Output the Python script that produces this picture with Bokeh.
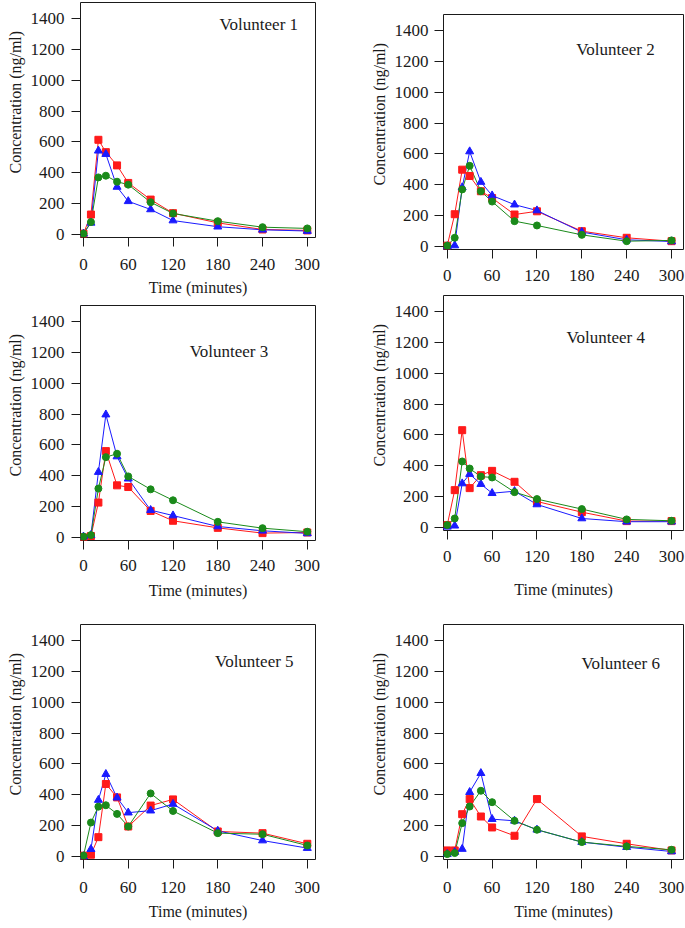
from bokeh.plotting import figure
from bokeh.layouts import row, column
from bokeh.models import Range1d, FixedTicker, Label, Title
from bokeh.embed import file_html
from bokeh.resources import INLINE

# ---------------- data ----------------
time_min = [0, 10, 20, 30, 45, 60, 90, 120, 180, 240, 300]
x_ticks = [0, 60, 120, 180, 240, 300]
y_ticks = [0, 200, 400, 600, 800, 1000, 1200, 1400]
volunteer_names = ["Volunteer 1", "Volunteer 2", "Volunteer 3",
                   "Volunteer 4", "Volunteer 5", "Volunteer 6"]

# red squares
v1_red = [5, 129, 614, 534, 448, 334, 226, 138, 75, 32, 26]
v2_red = [5, 209, 498, 457, 358, 314, 207, 228, 99, 56, 34]
v3_red = [0, 9, 226, 560, 338, 327, 172, 108, 62, 28, 32]
v4_red = [15, 242, 631, 255, 339, 367, 296, 168, 99, 41, 41]
v5_red = [5, 11, 125, 470, 383, 194, 330, 370, 162, 151, 82]
v6_red = [39, 39, 274, 372, 259, 188, 134, 372, 130, 82, 39]

# blue triangles
v1_blue = [5, 75, 543, 521, 308, 215, 162, 90, 50, 30, 22]
v2_blue = [0, 6, 383, 616, 418, 330, 271, 233, 93, 43, 32]
v3_blue = [5, 15, 424, 797, 525, 381, 177, 142, 71, 43, 26]
v4_blue = [4, 11, 285, 346, 281, 222, 235, 149, 58, 37, 37]
v5_blue = [0, 47, 366, 534, 381, 284, 297, 340, 166, 103, 54]
v6_blue = [15, 28, 48, 417, 540, 242, 231, 173, 93, 60, 32]

# green circles
v1_green = [5, 80, 370, 381, 342, 323, 209, 136, 86, 47, 39]
v2_green = [5, 56, 370, 523, 358, 291, 164, 136, 75, 34, 39]
v3_green = [5, 15, 317, 521, 543, 396, 312, 241, 101, 60, 37]
v4_green = [15, 58, 428, 382, 330, 324, 229, 184, 119, 52, 43]
v5_green = [5, 220, 323, 332, 276, 194, 409, 295, 151, 144, 71]
v6_green = [15, 22, 216, 324, 426, 352, 231, 173, 93, 65, 43]

# ---------------- style ----------------
FONT = "Liberation Serif"
INK = "#1a1a1a"
RED = "#ff1a1a"
BLUE = "#1a1aff"
GREEN = "#1a8a1a"

# label anchor positions (data units) for "Volunteer n"
label_xy = [(235, 1361), (225, 1277), (195, 1207), (212, 1233), (229, 1264), (232, 1253)]


def make_panel(i, red, blue, green, width, height, bl, br, bt, bb,
               xr, ylab_standoff, ytitle_standoff, xlab_standoff,
               xtitle_standoff=None):
    p = figure(width=width, height=height, output_backend="svg",
               toolbar_location=None,
               x_range=Range1d(*xr), y_range=Range1d(-20, 1505),
               min_border_left=bl, min_border_right=br,
               min_border_top=bt, min_border_bottom=bb)
    p.xgrid.visible = False
    p.ygrid.visible = False
    p.outline_line_color = INK
    p.outline_line_alpha = 1
    p.outline_line_width = 1
    p.background_fill_color = "white"
    p.border_fill_color = "white"

    for ax in (p.xaxis[0], p.yaxis[0]):
        ax.axis_line_color = None
        ax.major_tick_out = 9
        ax.major_tick_in = 0
        ax.minor_tick_out = 0
        ax.minor_tick_in = 0
        ax.major_tick_line_color = INK
        ax.major_label_text_font = FONT
        ax.major_label_text_font_size = "17px"
        ax.major_label_text_color = INK
    p.xaxis[0].ticker = FixedTicker(ticks=x_ticks)
    p.yaxis[0].ticker = FixedTicker(ticks=y_ticks)
    p.xaxis[0].major_label_standoff = xlab_standoff
    p.yaxis[0].major_label_standoff = ylab_standoff

    if xtitle_standoff is not None:
        p.xaxis[0].axis_label = "Time (minutes)"
        p.xaxis[0].axis_label_text_font = FONT
        p.xaxis[0].axis_label_text_font_size = "16px"
        p.xaxis[0].axis_label_text_font_style = "normal"
        p.xaxis[0].axis_label_text_color = INK
        p.xaxis[0].axis_label_standoff = xtitle_standoff

    p.add_layout(Title(text="Concentration (ng/ml)", align="left", offset=64,
                       text_font=FONT, text_font_size="16px",
                       text_font_style="normal", text_color=INK,
                       standoff=ytitle_standoff), "left")

    p.line(time_min, red, line_color=RED, line_width=1)
    p.line(time_min, blue, line_color=BLUE, line_width=1)
    p.line(time_min, green, line_color=GREEN, line_width=1)
    p.scatter(time_min, red, marker="square", size=7, fill_color=RED, line_color=RED)
    p.scatter(time_min, blue, marker="triangle", size=8, fill_color=BLUE, line_color=BLUE)
    p.scatter(time_min, green, marker="circle", size=7, fill_color=GREEN, line_color=GREEN)

    lx, ly = label_xy[i]
    p.add_layout(Label(x=lx, y=ly, text=volunteer_names[i], text_align="center",
                       text_baseline="middle", text_font=FONT,
                       text_font_size="17px", text_color=INK))
    return p


LW, RW = 365, 320
LXR, RXR = (-4, 311), (-5, 316)
# left column: frames 2..237, 305..540, 624..859
p1 = make_panel(0, v1_red, v1_blue, v1_green, LW, 305, 80, 50, 2, 68, LXR, 7, 8, 12, xtitle_standoff=6)
p3 = make_panel(2, v3_red, v3_blue, v3_green, LW, 305, 80, 50, 0, 70, LXR, 7, 8, 10, xtitle_standoff=8)
p5 = make_panel(4, v5_red, v5_blue, v5_green, LW, 318, 80, 50, 14, 69, LXR, 7, 8, 13, xtitle_standoff=7)

# right column: frames 14..249, 295..530, 624..859
p2 = make_panel(1, v2_red, v2_blue, v2_green, RW, 293, 78, 2, 14, 44, RXR, 6, 7, 11)
p4 = make_panel(3, v4_red, v4_blue, v4_green, RW, 315, 78, 2, 2, 78, RXR, 6, 7, 11, xtitle_standoff=16)
p6 = make_panel(5, v6_red, v6_blue, v6_green, RW, 320, 78, 2, 16, 69, RXR, 6, 7, 13, xtitle_standoff=7)

layout = row(column(p1, p3, p5, spacing=0), column(p2, p4, p6, spacing=0), spacing=0)

open("out.html", "w").write(file_html(layout, INLINE))
